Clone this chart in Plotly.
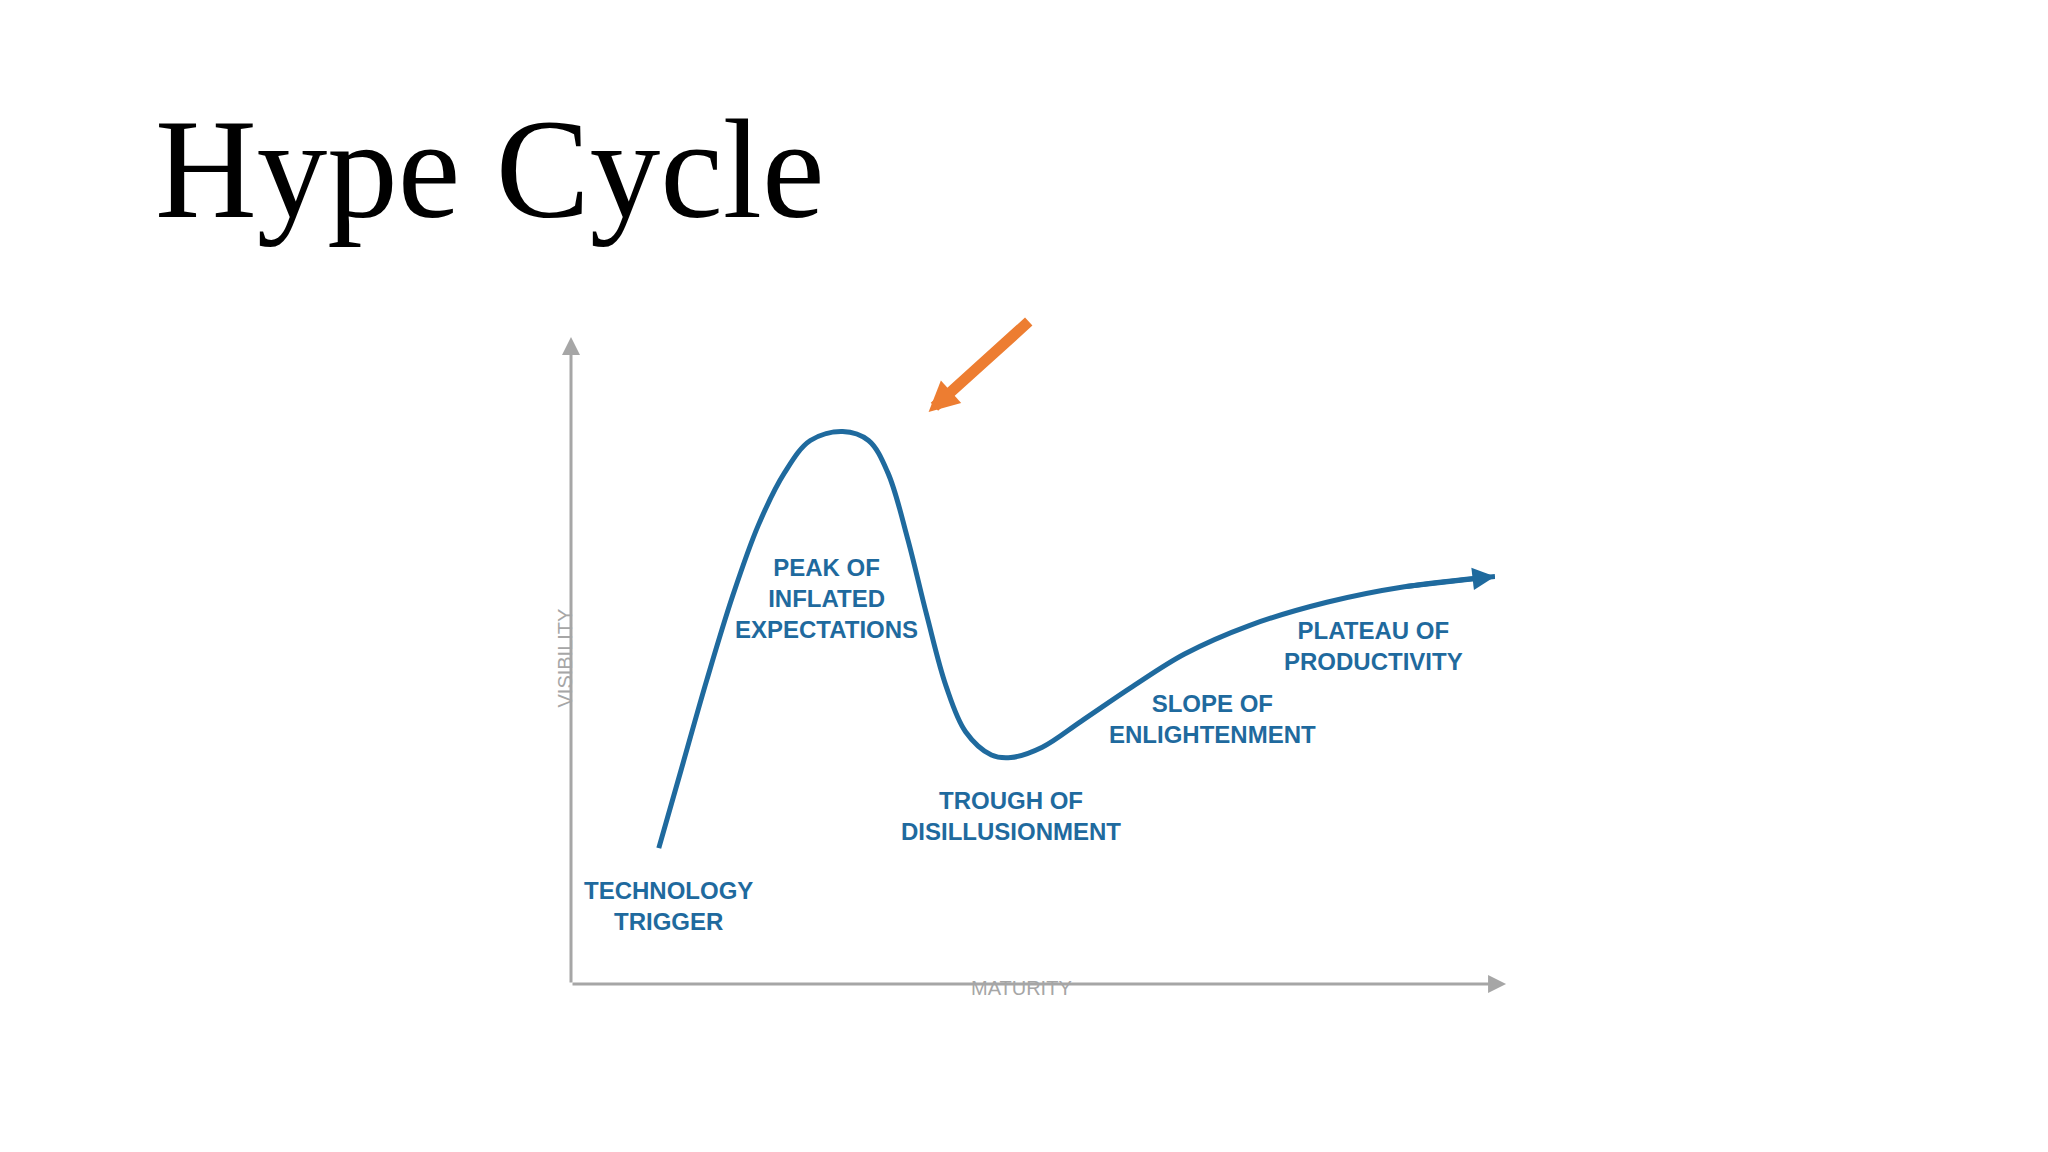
import plotly.graph_objects as go

maturity = [9.5, 11.9, 14.7, 17.5, 20.3, 23.1, 25.9, 29.4, 32.2, 34.3, 36.4, 38.5, 40.6, 42.7, 45.5, 47.6, 51.0, 55.2, 60.8, 66.4, 73.4, 81.8, 90.2, 100]
visibility = [21, 33, 47, 60, 71, 79, 84, 85.4, 84, 79, 69, 57, 46, 39, 35.4, 35, 36.6, 40.6, 46, 51, 55.4, 59, 61.4, 63]

phase_labels = ["TECHNOLOGY<br>TRIGGER", "PEAK OF<br>INFLATED<br>EXPECTATIONS", "TROUGH OF<br>DISILLUSIONMENT",
                "SLOPE OF<br>ENLIGHTENMENT", "PLATEAU OF<br>PRODUCTIVITY"]
phase_x = [10.6, 27.6, 47.6, 69.4, 86.9]
phase_y = [12, 59.6, 26, 41, 52.2]

BLUE = "#1f6a9e"
GRAY = "#a6a6a6"

fig = go.Figure()
fig.add_trace(go.Scatter(x=maturity, y=visibility, mode="lines", line=dict(color=BLUE, width=5, shape="spline", smoothing=1.0),
                         hoverinfo="skip", showlegend=False, cliponaxis=False))

ann = []
for t, x, y in zip(phase_labels, phase_x, phase_y):
    ann.append(dict(x=x, y=y, text="<b>" + t + "</b>", showarrow=False, font=dict(family="Liberation Sans Narrow, Liberation Sans", size=24, color=BLUE)))
ann.append(dict(x=0, y=100, ax=0, ay=0, axref="x", ayref="y", text="", showarrow=True, arrowhead=2, arrowsize=1.2, arrowwidth=3, arrowcolor=GRAY))
ann.append(dict(x=101.2, y=0, ax=0, ay=0, axref="x", ayref="y", text="", showarrow=True, arrowhead=2, arrowsize=1.2, arrowwidth=3, arrowcolor=GRAY))
ann.append(dict(x=maturity[-1], y=visibility[-1], ax=maturity[-2], ay=visibility[-2], axref="x", ayref="y", text="", showarrow=True, arrowhead=2, arrowsize=0.9, arrowwidth=5, arrowcolor=BLUE))
ann.append(dict(x=38.7, y=88.4, ax=49.7, ay=102.6, axref="x", ayref="y", text="", showarrow=True, arrowhead=2, arrowsize=0.55, arrowwidth=11, arrowcolor="#ed7d31"))
ann.append(dict(xref="paper", yref="paper", x=-0.021, y=0.504, text="VISIBILITY", textangle=-90, showarrow=False, font=dict(family="Liberation Sans", size=20, color=GRAY)))
ann.append(dict(xref="paper", yref="paper", x=0.488, y=-0.026, text="MATURITY", showarrow=False, font=dict(family="Liberation Sans", size=20, color=GRAY)))
ann.append(dict(xref="paper", yref="paper", x=-0.452, y=1.26, xanchor="left", yanchor="middle", text="Hype Cycle",
                showarrow=False, font=dict(family="Liberation Serif", size=141, color="black")))

fig.update_layout(width=2048, height=1152, margin=dict(l=563, r=561, t=329, b=176),
                  plot_bgcolor="white", paper_bgcolor="white", annotations=ann,
                  xaxis=dict(range=[0, 100], visible=False, fixedrange=True),
                  yaxis=dict(range=[0, 100], visible=False, fixedrange=True))
fig.write_html("out.html")
